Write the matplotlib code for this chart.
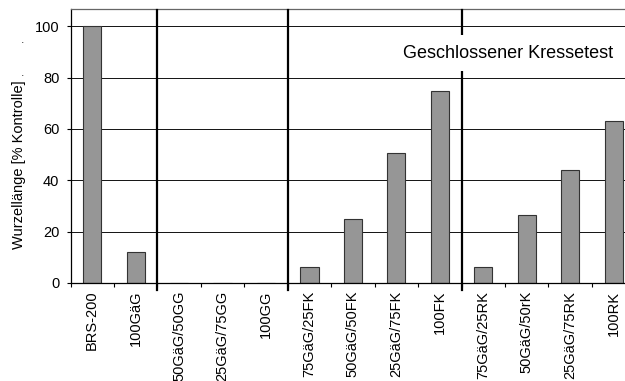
import matplotlib
matplotlib.use("Agg")
import matplotlib.pyplot as plt
import numpy as np

# ── Data ───────────────────────────────────────────────────────────────────────

categories = [
    "BRS-200", "100GäG",
    "50GäG/50GG", "25GäG/75GG", "100GG",
    "75GäG/25FK", "50GäG/50FK", "25GäG/75FK", "100FK",
    "75GäG/25RK", "50GäG/50rK", "25GäG/75RK", "100RK",
]
values = [100, 12.2, 0, 0, 0, 6.1, 24.8, 50.5, 74.8, 6.1, 26.5, 43.9, 63.2]
group_sizes = [2, 3, 4, 4]   # separators drawn between these groups
yticks = [0, 20, 40, 60, 80, 100]

BAR   = "#969696"
EDGE  = "#333333"
FG    = "#000000"

plt.rcParams["font.family"] = ["Liberation Sans", "DejaVu Sans"]

# ── Figure ─────────────────────────────────────────────────────────────────────

W, H = 625, 381
fig = plt.figure(figsize=(W / 100, H / 100), dpi=100)
fig.patch.set_facecolor("white")

n = len(categories)
cat_w = 43.45
ax = fig.add_axes([70.5 / W, 98 / H, n * cat_w / W, 274 / H])

x = np.arange(n)
ax.bar(x, values, width=0.42, color=BAR, edgecolor=EDGE, linewidth=0.8, zorder=2)

ax.set_xlim(-0.5, n - 0.5)
ax.set_ylim(0, 106.7)

# horizontal grid
ax.set_yticks(yticks)
ax.yaxis.grid(True, color="#111111", linewidth=0.7, zorder=0)
ax.set_axisbelow(True)
ax.tick_params(axis="y", direction="out", length=3, width=0.8, pad=5,
               labelsize=10.5, colors=FG)

# x ticks at category boundaries, labels at centres
ax.set_xticks(np.arange(n + 1) - 0.5)
ax.set_xticklabels([])
ax.tick_params(axis="x", which="major", direction="out", length=3, width=0.8)
ax.set_xticks(x, minor=True)
ax.set_xticklabels(categories, minor=True, rotation=90, fontsize=10.5)
ax.tick_params(axis="x", which="minor", length=0, pad=5.5)

for side in ["left", "bottom"]:
    ax.spines[side].set_color(FG)
    ax.spines[side].set_linewidth(0.9)
ax.spines["top"].set_color("#666666")
ax.spines["top"].set_linewidth(0.9)
ax.spines["right"].set_visible(False)

# group separators
bounds = np.cumsum(group_sizes)[:-1] - 0.5
for b in bounds:
    ax.plot([b, b], [-2.7, 106.3], color=FG, linewidth=1.6,
            clip_on=False, zorder=3)

ax.text(508 / W, 1 - 53 / H, "Geschlossener Kressetest", transform=fig.transFigure,
        ha="center", va="center", fontsize=13, color=FG, zorder=5,
        bbox=dict(facecolor="white", edgecolor="none", pad=7))

fig.text(19 / W, 1 - 165 / H, "Wurzellänge [% Kontrolle]", rotation=90,
         ha="center", va="center", fontsize=10.5, color=FG)
for yy in (43, 76):
    fig.text(22.5 / W, 1 - yy / H, ".", ha="center", va="baseline",
             fontsize=9, color="#333333")

fig.savefig("out.png", dpi=100, facecolor="white")
plt.close()
